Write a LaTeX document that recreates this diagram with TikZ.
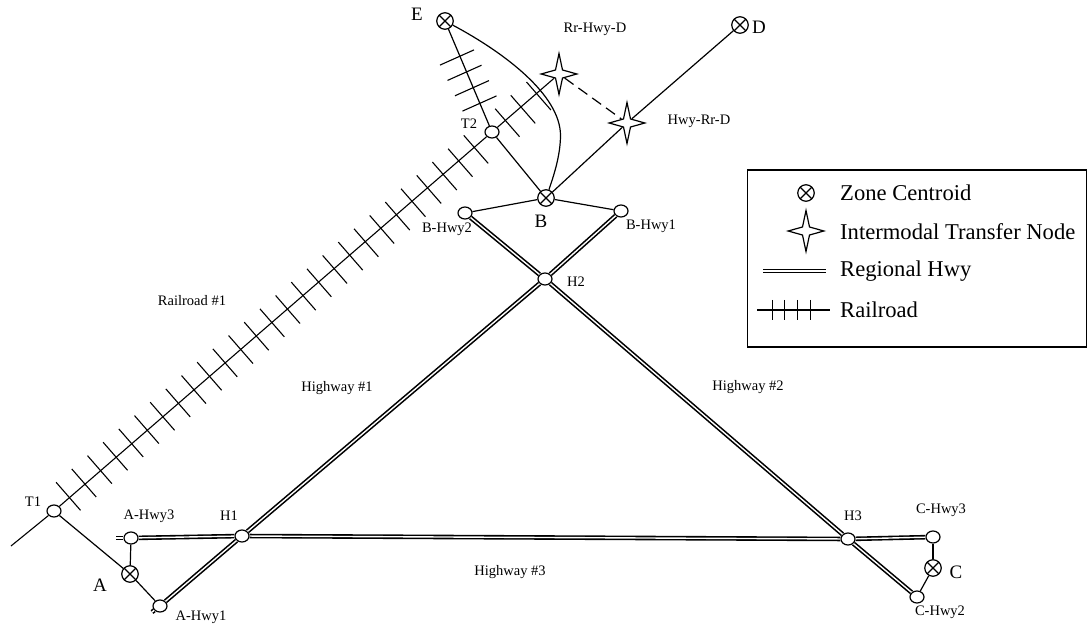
\documentclass[tikz,border=0pt]{standalone}
\usepackage{fontspec}
\setmainfont{Liberation Serif}
\usetikzlibrary{shapes.geometric,calc}
\tikzset{
  ln/.style={line width=1.2pt,black},
  hwy/.style={line width=1.6pt,black,double=white,double distance=1.4pt},
  rr/.style={line width=1.1pt,black},
  junction/.style={ellipse,draw,line width=1.2pt,fill=white,minimum width=14pt,minimum height=12pt,inner sep=0pt},
  zone/.style={circle,draw,line width=1.2pt,fill=white,minimum size=16.5pt,inner sep=0pt,
    path picture={\draw[line width=1.2pt] (path picture bounding box.north west) -- (path picture bounding box.south east)
      (path picture bounding box.north east) -- (path picture bounding box.south west);}},
  xfer/.style={star,star points=4,star point ratio=3.6,draw,line width=1.2pt,fill=white,minimum size=41pt,inner sep=0pt,xscale=.87,transform shape},
  small/.style={font=\fontsize{14.5}{16}\selectfont,inner sep=0pt},
  big/.style={font=\fontsize{19}{21}\selectfont,inner sep=0pt},
  legtext/.style={font=\fontsize{22.6}{24}\selectfont,inner sep=0pt,anchor=west},
}
\begin{document}
\begin{tikzpicture}[x=1pt,y=-1pt]
\useasboundingbox (0,0) rectangle (1087,628);
% nodes
\node[junction] (T1) at (54,511) {};
\node[junction] (T2) at (492,132) {};
\node[junction] (AH3) at (131,538) {};
\node[junction] (AH1) at (160,606) {};
\node[junction] (H1) at (242,536) {};
\node[junction] (H2) at (545,279) {};
\node[junction] (H3) at (848,539) {};
\node[junction] (CH3) at (933,537) {};
\node[junction] (CH2) at (917,597) {};
\node[junction] (BH2) at (465,213) {};
\node[junction] (BH1) at (621,211) {};
\node[zone] (A) at (130,574) {};
\node[zone] (B) at (546,198) {};
\node[zone] (C) at (933,568) {};
\node[zone] (D) at (740,25) {};
\node[zone] (E) at (445,21) {};
\node[xfer] (S1) at (559,74) {};
\node[xfer] (S2) at (627,123) {};
\coordinate (Tend) at (11,546);
\coordinate (Astub3) at (116,538);
\coordinate (Astub1) at (152,612);
\coordinate (Ra) at (68.3,496.3);
\coordinate (Rb) at (538.7,96);
\coordinate (Ea) at (457,57.5);
\coordinate (Eb) at (479.5,103.5);
% highways
\draw[hwy] (Astub3) -- (AH3);
\draw[hwy] (AH3) -- (H1);
\draw[hwy] (Astub1) -- (AH1);
\draw[hwy] (AH1) -- (H1);
\draw[hwy] (H1) -- (H2);
\draw[hwy] (H1) -- (H3);
\draw[hwy] (H2) -- (H3);
\draw[hwy] (H3) -- (CH3);
\draw[hwy] (H3) -- (CH2);
\draw[hwy] (BH2) -- (H2);
\draw[hwy] (BH1) -- (H2);
% links
\draw[ln] (T1) -- (A);
\draw[ln] (A) -- (AH3);
\draw[ln] (A) -- (AH1);
\draw[ln] (C) -- (CH3);
\draw[ln] (C) -- (CH2);
\draw[ln] (B) -- (BH2);
\draw[ln] (B) -- (BH1);
\draw[ln] (B) -- (T2);
\draw[ln] (E) -- (T2);
\draw[ln] (B) -- (S2);
\draw[ln] (S2) -- (D);
\draw[ln,dash pattern=on 11pt off 6pt] (S1) -- (S2);
\draw[ln] (E) .. controls (505,53) and (560,95) .. (560.5,135) .. controls (560.5,155) and (554,175) .. (B);
% railroad
\draw[rr] (Tend) -- (T1);
\draw[rr] (T1) -- (T2);
\draw[rr] (T2) -- (S1);
\foreach \i in {0,...,26,28,29,30}
  \draw[rr] ($(Ra)!\i/30!(Rb)+(-12.2,-14)$) -- ($(Ra)!\i/30!(Rb)+(12.2,14)$);
\foreach \i in {0,1,2,3}
  \draw[rr] ($(Ea)!\i/3!(Eb)+(-17,7.6)$) -- ($(Ea)!\i/3!(Eb)+(17,-7.6)$);
% labels
\node[big] (lE) at (417,14) {E};
\node[big] (lD) at (759,27) {D};
\node[big] (lB) at (541,221) {B};
\node[big] (lA) at (100,585) {A};
\node[big] (lC) at (956,572) {C};
\node[small] (l1) at (595,29) {Rr-Hwy-D};
\node[small] (l2) at (699,121) {Hwy-Rr-D};
\node[small] (l3) at (469,124) {T2};
\node[small] (l4) at (447,229) {B-Hwy2};
\node[small] (l5) at (651,226) {B-Hwy1};
\node[small] (l6) at (576,282) {H2};
\node[small] (l7) at (192,301) {Railroad \#1};
\node[small] (l8) at (337,388) {Highway \#1};
\node[small] (l9) at (748,387) {Highway \#2};
\node[small] (l10) at (510,572) {Highway \#3};
\node[small] (l11) at (33,502) {T1};
\node[small] (l12) at (149,516) {A-Hwy3};
\node[small] (l13) at (229,516) {H1};
\node[small] (l14) at (853,516) {H3};
\node[small] (l15) at (941,510) {C-Hwy3};
\node[small] (l16) at (940,612) {C-Hwy2};
\node[small] (l17) at (201,617) {A-Hwy1};
% legend
\draw[line width=1.2pt] (1086.5,170) -- (747.5,170) -- (747.5,347) -- (1086.5,347) -- cycle;
\node[zone] (kZ) at (806,193) {};
\node[xfer] (kS) at (806,231) {};
\coordinate (kH1) at (763,271);
\coordinate (kH2) at (826,271);
\coordinate (kR1) at (757,310);
\coordinate (kR2) at (830,310);
\draw[hwy] (kH1) -- (kH2);
\draw[rr] (kR1) -- (kR2);
\foreach \x in {772.5,784.5,797.5,810.5}
  \draw[rr] (\x,300) -- (\x,320);
\node[legtext] (t1) at (840,193) {Zone Centroid};
\node[legtext] (t2) at (840,232) {Intermodal Transfer Node};
\node[legtext] (t3) at (840,271) {Regional Hwy};
\node[legtext] (t4) at (840,310) {Railroad};
\end{tikzpicture}
\end{document}
